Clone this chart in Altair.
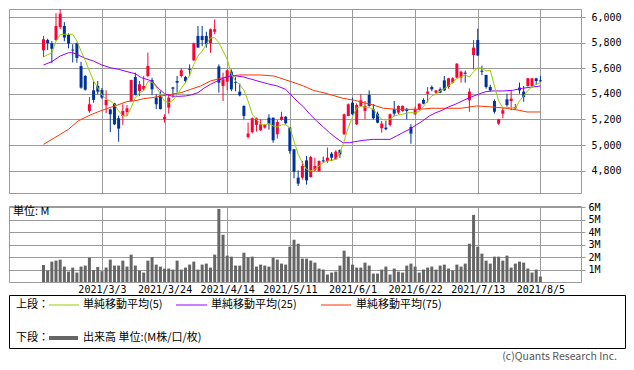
import altair as alt
import pandas as pd

# ---------------- data ----------------
tick_idx = [14, 29, 44, 59, 74, 89, 104, 119]
tick_labels = ["2021/3/3", "2021/3/24", "2021/4/14", "2021/5/11",
               "2021/6/1", "2021/6/22", "2021/7/13", "2021/8/5"]
price_ticks = [4800, 5000, 5200, 5400, 5600, 5800, 6000]
volume_ticks = [1, 2, 3, 4, 5, 6]

opens = [5740, 5820, 5795, 5820, 5921, 5930, 5860, 5745, 5795, 5617,
         5540, 5266, 5427, 5461, 5430, 5310, 5278, 5325, 5209, 5227,
         5258, 5344, 5531, 5422, 5435, 5539, 5508, 5370, 5388, 5201,
         5292, 5450, 5500, 5539, 5531, 5595, 5662, 5852, 5852, 5852,
         5795, 5885, 5614, 5461, 5495, 5573, 5490, 5417, 5305, 5063,
         5100, 5157, 5115, 5136, 5213, 5213, 5084, 5195, 5221, 5136,
         4966, 4745, 4745, 4880, 4750, 4802, 4797, 4880, 4875, 4932,
         4888, 4961, 5084, 5227, 5331, 5162, 5305, 5266, 5391, 5279,
         5245, 5131, 5136, 5157, 5279, 5253, 5266, 5279, 5141, 5240,
         5279, 5352, 5401, 5453, 5409, 5435, 5505, 5453, 5487, 5526,
         5526, 5565, 5349, 5703, 5820, 5580, 5547, 5453, 5344, 5167,
         5245, 5357, 5344, 5286, 5448, 5417, 5461, 5461, 5521, 5505]
highs = [5852, 5830, 5812, 6030, 6080, 5960, 5872, 5787, 5800, 5650,
         5545, 5375, 5495, 5500, 5445, 5427, 5285, 5330, 5230, 5318,
         5312, 5510, 5565, 5500, 5540, 5721, 5526, 5396, 5420, 5240,
         5396, 5455, 5539, 5600, 5540, 5630, 5800, 5930, 5930, 5885,
         5910, 5982, 5630, 5565, 5590, 5590, 5530, 5480, 5310, 5175,
         5215, 5215, 5200, 5165, 5240, 5215, 5195, 5260, 5225, 5140,
         4970, 4802, 4875, 4914, 4915, 4900, 4880, 4910, 4980, 4945,
         4960, 4965, 5245, 5325, 5370, 5325, 5396, 5344, 5427, 5320,
         5260, 5188, 5188, 5245, 5344, 5310, 5310, 5290, 5162, 5300,
         5325, 5365, 5453, 5465, 5430, 5450, 5539, 5525, 5530, 5640,
         5580, 5580, 5443, 5820, 5909, 5620, 5550, 5470, 5357, 5205,
         5297, 5401, 5427, 5320, 5487, 5461, 5525, 5525, 5525, 5539]
lows = [5688, 5742, 5640, 5815, 5905, 5810, 5755, 5645, 5643, 5440,
        5425, 5252, 5330, 5395, 5360, 5250, 5100, 5155, 5026, 5157,
        5227, 5338, 5388, 5383, 5427, 5530, 5390, 5280, 5278, 5175,
        5245, 5370, 5410, 5527, 5490, 5539, 5655, 5760, 5772, 5760,
        5721, 5865, 5409, 5344, 5430, 5420, 5420, 5380, 5200, 5050,
        5090, 5105, 5110, 5128, 5120, 5018, 5050, 5190, 5160, 4932,
        4740, 4680, 4730, 4690, 4745, 4795, 4790, 4860, 4860, 4875,
        4885, 4900, 5080, 5225, 5235, 5155, 5300, 5200, 5300, 5200,
        5170, 5096, 5115, 5145, 5225, 5240, 5260, 5200, 5010, 5235,
        5270, 5318, 5331, 5420, 5400, 5405, 5422, 5440, 5480, 5520,
        5487, 5487, 5260, 5591, 5695, 5545, 5440, 5420, 5245, 5157,
        5209, 5300, 5271, 5275, 5400, 5338, 5455, 5455, 5470, 5495]
closes = [5826, 5795, 5752, 5930, 6026, 5840, 5792, 5738, 5680, 5448,
          5432, 5318, 5352, 5417, 5370, 5352, 5240, 5162, 5128, 5266,
          5287, 5508, 5390, 5474, 5461, 5617, 5435, 5318, 5280, 5219,
          5370, 5440, 5487, 5584, 5500, 5588, 5795, 5761, 5820, 5787,
          5904, 5904, 5487, 5513, 5584, 5435, 5484, 5388, 5227, 5089,
          5209, 5209, 5162, 5157, 5165, 5037, 5180, 5221, 5170, 4953,
          4791, 4698, 4836, 4724, 4906, 4836, 4875, 4872, 4901, 4901,
          4948, 4927, 5240, 5318, 5240, 5312, 5349, 5305, 5305, 5209,
          5175, 5167, 5123, 5240, 5245, 5305, 5305, 5266, 5089, 5279,
          5323, 5323, 5417, 5435, 5427, 5409, 5427, 5521, 5521, 5635,
          5573, 5557, 5417, 5761, 5700, 5572, 5453, 5427, 5260, 5201,
          5271, 5312, 5362, 5296, 5427, 5375, 5521, 5521, 5500, 5497]
volume_m = [1.37, 0.92, 1.64, 1.72, 1.80, 1.24, 0.84, 1.16, 0.76, 1.24,
            1.32, 1.96, 0.97, 1.21, 0.87, 1.16, 1.80, 1.32, 1.32, 1.72,
            1.24, 2.20, 1.32, 0.92, 0.76, 1.72, 2.01, 1.40, 1.24, 1.08,
            1.08, 1.00, 1.72, 1.00, 1.16, 1.40, 1.64, 1.00, 1.40, 1.48,
            1.16, 2.20, 5.88, 3.80, 2.12, 2.04, 1.32, 1.32, 2.36, 1.99,
            2.04, 1.24, 1.40, 1.32, 1.24, 1.96, 1.80, 1.48, 1.40, 2.84,
            3.40, 3.08, 1.88, 1.88, 1.72, 1.56, 1.08, 1.00, 0.60, 0.76,
            0.84, 1.32, 2.52, 2.04, 1.40, 1.16, 1.16, 1.56, 1.32, 0.68,
            0.68, 1.00, 1.24, 0.60, 1.08, 0.84, 0.76, 1.32, 1.48, 1.24,
            0.76, 1.00, 1.16, 1.24, 1.00, 1.32, 1.40, 1.08, 0.92, 1.40,
            1.24, 1.48, 3.08, 5.40, 2.84, 2.28, 1.72, 1.48, 2.04, 2.04,
            1.72, 2.12, 1.16, 1.48, 1.64, 1.56, 1.08, 0.76, 1.00, 0.44]
ma5 = [5688, 5705, 5721, 5812, 5862, 5865, 5865, 5865, 5812, 5734,
       5662, 5578, 5500, 5448, 5391, 5357, 5344, 5318, 5266, 5227,
       5227, 5292, 5370, 5409, 5422, 5495, 5490, 5453, 5396, 5344,
       5331, 5349, 5391, 5443, 5487, 5547, 5630, 5695, 5734, 5787,
       5838, 5838, 5800, 5734, 5670, 5552, 5500, 5474, 5427, 5344,
       5240, 5201, 5162, 5157, 5167, 5149, 5141, 5157, 5157, 5136,
       5031, 4927, 4862, 4810, 4797, 4810, 4836, 4862, 4875, 4880,
       4888, 4940, 5031, 5136, 5220, 5290, 5300, 5297, 5292, 5280,
       5235, 5200, 5195, 5203, 5227, 5235, 5240, 5250, 5253, 5250,
       5262, 5300, 5344, 5385, 5396, 5422, 5440, 5461, 5490, 5520,
       5531, 5547, 5531, 5573, 5604, 5600, 5578, 5584, 5461, 5344,
       5292, 5292, 5292, 5287, 5344, 5383, 5427, 5453, 5474, 5487]
ma25_idx = [0, 2, 4, 6, 7, 8, 10, 12, 14, 16, 18, 20, 22, 23.5, 26, 27.5,
            29, 30.6, 32, 34, 35.3, 37, 38.4, 40, 41.6, 43, 44.7, 46.3, 48,
            49, 51.3, 53.6, 56, 58, 59, 60.7, 62.3, 63.8, 65.4, 67, 68.5,
            70, 71.7, 73.3, 74.5, 76.7, 79, 83, 84.5, 86, 87.7, 89.3, 90.8,
            92.4, 94, 95.5, 97, 98.6, 100, 102, 104.5, 106, 107.6, 110,
            112.3, 114.7, 117, 119]
ma25_val = [5625, 5651, 5695, 5721, 5721, 5708, 5677, 5656, 5625, 5604,
            5591, 5573, 5557, 5525, 5500, 5443, 5401, 5383, 5380, 5383,
            5391, 5409, 5443, 5474, 5500, 5521, 5539, 5539, 5531, 5521,
            5500, 5479, 5461, 5435, 5401, 5344, 5297, 5240, 5188, 5141,
            5096, 5057, 5018, 5018, 5026, 5037, 5044, 5044, 5070, 5096,
            5123, 5157, 5188, 5227, 5253, 5271, 5297, 5318, 5339, 5370,
            5401, 5417, 5422, 5422, 5427, 5443, 5453, 5461]
ma75_idx = [0, 2, 4, 6, 8.3, 10.7, 13, 15.4, 17.7, 20, 22.4, 24, 26, 28.2,
            30.6, 33, 35.3, 37.6, 40, 42.4, 44.7, 47, 52, 55.2, 57.6, 60,
            62.3, 64.6, 67, 69.3, 71.7, 74.5, 76.7, 79, 81.4, 84.5, 90, 93,
            100, 103.7, 107.6, 110.7, 113.9, 115.8, 119]
ma75_val = [5005, 5044, 5083, 5123, 5188, 5227, 5258, 5287, 5312, 5339,
            5349, 5362, 5370, 5383, 5396, 5409, 5435, 5461, 5500, 5521,
            5539, 5547, 5547, 5539, 5513, 5487, 5461, 5427, 5409, 5388,
            5365, 5349, 5331, 5312, 5287, 5279, 5279, 5287, 5287, 5305,
            5297, 5287, 5271, 5258, 5258]

legend_top_label = "上段："
legend_bottom_label = "下段："
ma_labels = ["単純移動平均(5)", "単純移動平均(25)", "単純移動平均(75)"]
volume_label = "出来高 単位:(M株/口/枚)"
unit_label = "単位: M"
credit = "(c)Quants Research Inc."

# ---------------- styles ----------------
RED = "#ff0033"
BLUE = "#003399"
MA_COLORS = ["#99cc00", "#9900ff", "#ff3300"]
VOL_C = "#666666"
GRID = "#9a9a9a"
MONO = "DejaVu Sans Mono"
JP = "Noto Sans CJK JP"

n = len(closes)
idx = list(range(n))
candles = pd.DataFrame({"i": idx, "open": opens, "high": highs,
                        "low": lows, "close": closes})
candles["dir"] = ["up" if c >= o else "down" for o, c in zip(opens, closes)]

xscale = alt.Scale(domain=[-7.06, 127.53], nice=False, zero=False)
yscale = alt.Scale(domain=[4625, 6062.5], nice=False, zero=False)

xp = alt.X("i:Q", scale=xscale,
           axis=alt.Axis(values=tick_idx, labels=False, ticks=False,
                         domain=False, grid=True, title=None))
price_label_expr = ("floor(datum.value/1000) + ',' + "
                    "slice('00' + (datum.value % 1000), -3)")
yax = alt.Axis(orient="right", values=price_ticks, labelExpr=price_label_expr,
               tickSize=4, labelPadding=6, grid=True, domain=False, title=None)
color = alt.Color("dir:N", scale=alt.Scale(domain=["up", "down"],
                                           range=[RED, BLUE]), legend=None)

base = alt.Chart(candles)
wick = base.mark_rule(strokeWidth=1, clip=True).encode(
    x=xp, y=alt.Y("low:Q", scale=yscale, axis=yax), y2="high:Q", color=color)
body = base.mark_bar(size=3, clip=True).encode(
    x=xp, y=alt.Y("open:Q", scale=yscale, axis=yax), y2="close:Q", color=color)

ma5_df = pd.DataFrame({"i": idx, "v": ma5})
ma25_df = pd.DataFrame({"i": ma25_idx, "v": ma25_val})
ma75_df = pd.DataFrame({"i": ma75_idx, "v": ma75_val})
lines = [
    alt.Chart(df).mark_line(color=c, strokeWidth=1, clip=True).encode(
        x=xp, y=alt.Y("v:Q", scale=yscale, axis=yax))
    for df, c in [(ma75_df, MA_COLORS[2]), (ma25_df, MA_COLORS[1]),
                  (ma5_df, MA_COLORS[0])]
]
price = alt.layer(wick, body, *lines).properties(width=572, height=184)

# volume
label_expr = "[" + ",".join("'%s'" % t for t in tick_labels) + "][round((datum.value-14)/15)]"
vol_df = pd.DataFrame({"i": idx, "v": volume_m})
xv = alt.X("i:Q", scale=xscale,
           axis=alt.Axis(values=tick_idx, labelExpr=label_expr, ticks=False,
                         domain=False, grid=True, title=None, labelPadding=2,
                         labelOverlap=False, labelFlush=False))
vol_bars = alt.Chart(vol_df).mark_bar(size=3, color=VOL_C).encode(
    x=xv,
    y=alt.Y("v:Q", scale=alt.Scale(domain=[0, 6.114], nice=False, zero=True),
            axis=alt.Axis(orient="right", values=volume_ticks,
                          labelExpr="datum.value + 'M'", tickSize=4,
                          labelPadding=3, grid=True, domain=False, title=None)))
one = pd.DataFrame({"k": [0]})
unit_txt = alt.Chart(one).mark_text(
    text=unit_label, align="left", baseline="middle", font=JP, fontSize=11,
    color="#000").encode(x=alt.value(4), y=alt.value(6))
volume = alt.layer(vol_bars, unit_txt).properties(width=572, height=76)


# legend box
def ltext(t, x, y, align="left", color_="#000", size=11):
    return alt.Chart(one).mark_text(
        text=t, align=align, baseline="middle", font=JP, fontSize=size,
        color=color_).encode(x=alt.value(x), y=alt.value(y))


def lrule(x1, x2, y, c, w):
    return alt.Chart(one).mark_rule(color=c, strokeWidth=w).encode(
        x=alt.value(x1), x2=alt.value(x2), y=alt.value(y))


r1, r2 = 10, 43
legend = alt.layer(
    ltext(legend_top_label, 7, r1),
    lrule(40, 70, r1, MA_COLORS[0], 1), ltext(ma_labels[0], 74, r1),
    lrule(167, 198, r1, MA_COLORS[1], 1), ltext(ma_labels[1], 202, r1),
    lrule(312, 342, r1, MA_COLORS[2], 1), ltext(ma_labels[2], 347, r1),
    ltext(legend_bottom_label, 7, r2),
    lrule(40, 69, r2, VOL_C, 4), ltext(volume_label, 74, r2),
    ltext(credit, 608, 62, align="right", color_="#555", size=10.5),
).properties(width=616, height=53,
             view=alt.ViewBackground(stroke="#000", strokeWidth=1))

chart = alt.vconcat(price, volume, legend, spacing=13, bounds="flush").properties(
    padding=0
).configure_view(stroke=GRID, strokeWidth=1).configure_axis(
    labelFont=MONO, labelFontSize=10, labelColor="#000", gridColor=GRID,
    gridWidth=1, tickColor=GRID)

chart.save("out.html", embed_options={"renderer": "svg", "actions": False})
